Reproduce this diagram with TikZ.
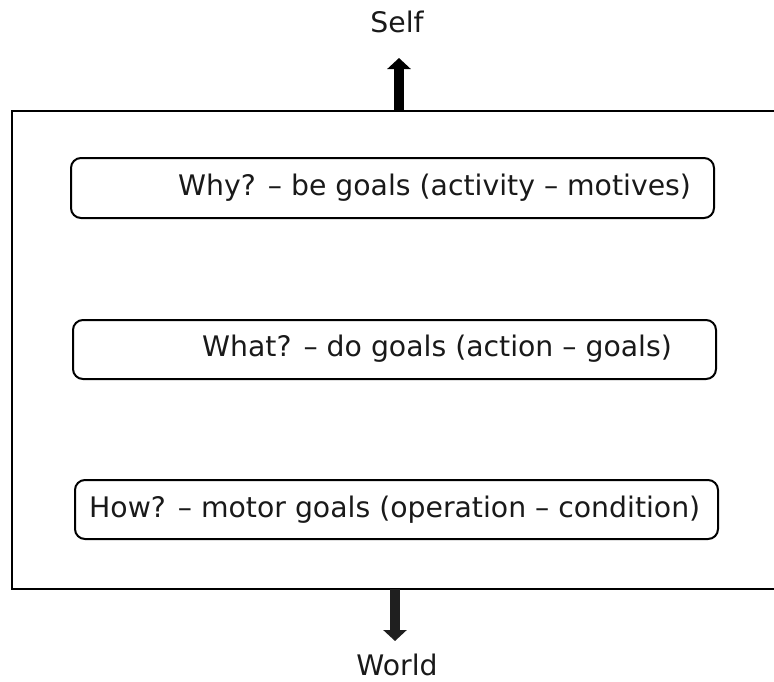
\documentclass[tikz,border=0pt]{standalone}
\usepackage{fontspec}
\setmainfont{DejaVu Sans}
\usetikzlibrary{arrows.meta}
\begin{document}
\begin{tikzpicture}[x=1pt,y=-1pt,
  frame/.style={line width=2.5pt, line cap=butt},
  goalbox/.style={draw, line width=2pt, rounded corners=10pt, inner sep=0pt, minimum width=643pt, minimum height=60pt, anchor=north west},
  lbl/.style={inner sep=0pt, anchor=base west, text=black!90, font=\fontsize{28.3}{34}\selectfont},
  blockarrow/.style={line width=10.5pt, -{Triangle[width=23pt,length=11pt]}}]
\useasboundingbox (0,0) rectangle (774,681);
% outer frame (open on the right)
\coordinate (fTR) at (774,111);
\coordinate (fTL) at (12,111);
\coordinate (fBL) at (12,589);
\coordinate (fBR) at (774,589);
\draw[frame] (fTR) -- (fTL) -- (fBL) -- (fBR);
% goal boxes
\node[goalbox] (why) at (70,157) {};
\node[goalbox, minimum height=59pt] (what) at (72,319) {};
\node[goalbox, minimum height=59pt] (how) at (74,479) {};
\node[lbl] (whyt) at (178,195) {Why? – be goals (activity – motives)};
\node[lbl] (whatt) at (202,356) {What? – do goals (action – goals)};
\node[lbl] (howt) at (89,517) {How? – motor goals (operation – condition)};
% Self / World
\node[lbl, anchor=base] (self) at (397,32) {Self};
\node[lbl, anchor=base] (world) at (397,675) {World};
\coordinate (upstart) at (399,111);
\coordinate (uptip) at (399,58);
\coordinate (downstart) at (395,589);
\coordinate (downtip) at (395,641);
\draw[blockarrow, black] (upstart) -- (uptip);
\draw[blockarrow, black!88] (downstart) -- (downtip);
\end{tikzpicture}
\end{document}
